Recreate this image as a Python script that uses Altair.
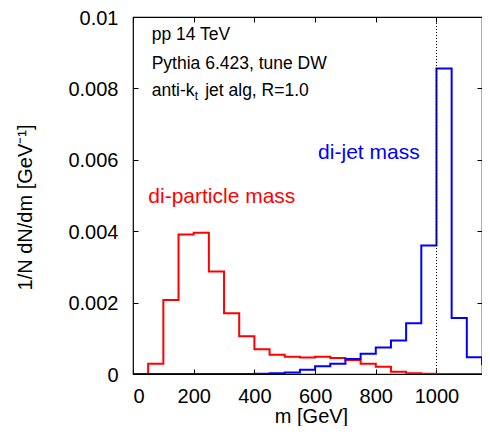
import altair as alt
import pandas as pd

FONT = "Liberation Sans"

# histogram bins (lower edges, GeV) and contents
bin_lo = list(range(0, 1200, 50))
bin_hi_end = 1200
di_particle = [0, 0.00029, 0.00207, 0.00391, 0.00396, 0.00287, 0.0017, 0.00106,
               0.00069, 0.00054, 0.00048, 0.00046, 0.00048, 0.00045, 0.00039, 0.00029,
               0.0002, 0.00006, 0.00002, 0.00001, 0, 0, 0, 0]
di_jet = [0, 0, 0, 0, 0, 0, 0, 0,
          0.00001, 0.00002, 0.00004, 0.00012, 0.00022, 0.00029, 0.00042, 0.00057,
          0.00074, 0.00094, 0.00142, 0.0036, 0.00856, 0.00157, 0.00047, 0.00027]

x_ticks = [0, 200, 400, 600, 800, 1000]
y_ticks = [0, 0.002, 0.004, 0.006, 0.008, 0.01]
x_domain = [0, 1150]
y_domain = [0, 0.01]
ref_mass = [1000]

# annotation text (positions in data coordinates)
ann_text = ["pp 14 TeV", "Pythia 6.423, tune DW", "anti-k"]
ann_x = [61.5, 61.5, 61.5]
ann_y = [0.00936, 0.00855, 0.00779]
sub_text = ["t"]
tail_text = ["jet alg, R=1.0"]

lab_text = ["di-particle mass", "di-jet mass"]
lab_x = [50.4, 610]
lab_y = [0.0048, 0.00603]
lab_series = ["di-particle", "di-jet"]

rows = []
for name, vals in (("di-particle", di_particle), ("di-jet", di_jet)):
    for i, (lo, v) in enumerate(zip(bin_lo, vals)):
        rows.append({"series": name, "m": lo, "v": v, "order": i})
    rows.append({"series": name, "m": bin_hi_end, "v": vals[-1], "order": len(vals)})
hist = pd.DataFrame(rows)

xs = alt.Scale(domain=x_domain, nice=False, zero=False)
ys = alt.Scale(domain=y_domain, nice=False, zero=False)
cs = alt.Scale(domain=["di-particle", "di-jet"], range=["#ff0000", "#0000ff"])

lines = alt.Chart(hist).mark_line(interpolate="step-after", strokeWidth=2, clip=True).encode(
    x=alt.X("m:Q", scale=xs, axis=alt.Axis(
        values=x_ticks, format="d", ticks=False, domain=False, grid=False,
        labelPadding=12, labelFontSize=20, labelFont=FONT, labelColor="black",
        title="m [GeV]", titleFontSize=20, titleFont=FONT, titleFontWeight="normal",
        titleColor="black", titleY=48, titleX=178, titleBaseline="alphabetic")),
    y=alt.Y("v:Q", scale=ys, axis=alt.Axis(
        values=y_ticks, format="~g", ticks=False, domain=False, grid=False,
        labelPadding=15, labelFontSize=20, labelFont=FONT, labelColor="black",
        labelOffset=1,
        title="1/N dN/dm [GeV⁻¹]", titleFontSize=20, titleFont=FONT,
        titleFontWeight="normal", titleColor="black", titleX=-98, titleY=190,
        titleAngle=270, titleBaseline="bottom", titleAnchor="middle")),
    color=alt.Color("series:N", scale=cs, legend=None),
    order="order:Q",
    detail="series:N",
)

rule = alt.Chart(pd.DataFrame({"m": ref_mass})).mark_rule(
    color="black", strokeWidth=1, strokeDash=[1, 2]).encode(
    x=alt.X("m:Q", scale=xs, axis=None))

inward = dict(labels=False, ticks=True, tickSize=5, tickColor="black", tickWidth=1,
              domain=False, grid=False, title=None, offset=-5)

labels_df = pd.DataFrame({"x": lab_x, "y": lab_y, "t": lab_text, "s": lab_series})
labels = alt.Chart(labels_df).mark_text(
    align="left", baseline="alphabetic", fontSize=21, font=FONT).encode(
    x=alt.X("x:Q", scale=xs, axis=alt.Axis(orient="bottom", values=x_ticks, **inward)),
    y=alt.Y("y:Q", scale=ys, axis=alt.Axis(orient="left", values=y_ticks, **inward)),
    text="t:N",
    color=alt.Color("s:N", scale=cs, legend=None),
)

ann_df = pd.DataFrame({"x": ann_x, "y": ann_y, "t": ann_text})
ann = alt.Chart(ann_df).mark_text(
    align="left", baseline="alphabetic", fontSize=17.5, font=FONT, color="black").encode(
    x=alt.X("x:Q", scale=xs, axis=alt.Axis(orient="top", values=x_ticks, **inward)),
    y=alt.Y("y:Q", scale=ys, axis=alt.Axis(orient="right", values=y_ticks, **inward)),
    text="t:N",
)

sub_df = pd.DataFrame({"x": ann_x[2:], "y": ann_y[2:], "t": sub_text})
sub = alt.Chart(sub_df).mark_text(
    align="left", baseline="alphabetic", fontSize=12, font=FONT, color="black",
    dx=43, dy=4).encode(
    x=alt.X("x:Q", scale=xs, axis=None),
    y=alt.Y("y:Q", scale=ys, axis=None),
    text="t:N",
)

tail_df = pd.DataFrame({"x": ann_x[2:], "y": ann_y[2:], "t": tail_text})
tail = alt.Chart(tail_df).mark_text(
    align="left", baseline="alphabetic", fontSize=17.5, font=FONT, color="black",
    dx=53.5).encode(
    x=alt.X("x:Q", scale=xs, axis=None),
    y=alt.Y("y:Q", scale=ys, axis=None),
    text="t:N",
)

chart = alt.layer(lines, rule, labels, ann, sub, tail).resolve_axis(
    x="independent", y="independent"
).properties(
    width=349, height=357,
    autosize=alt.AutoSizeParams(type="none"),
    padding={"left": 125, "top": 9, "right": 0, "bottom": 52},
).configure_view(stroke="black", strokeWidth=1.2)

chart.save("out.html", embed_options={"renderer": "svg", "actions": False})
